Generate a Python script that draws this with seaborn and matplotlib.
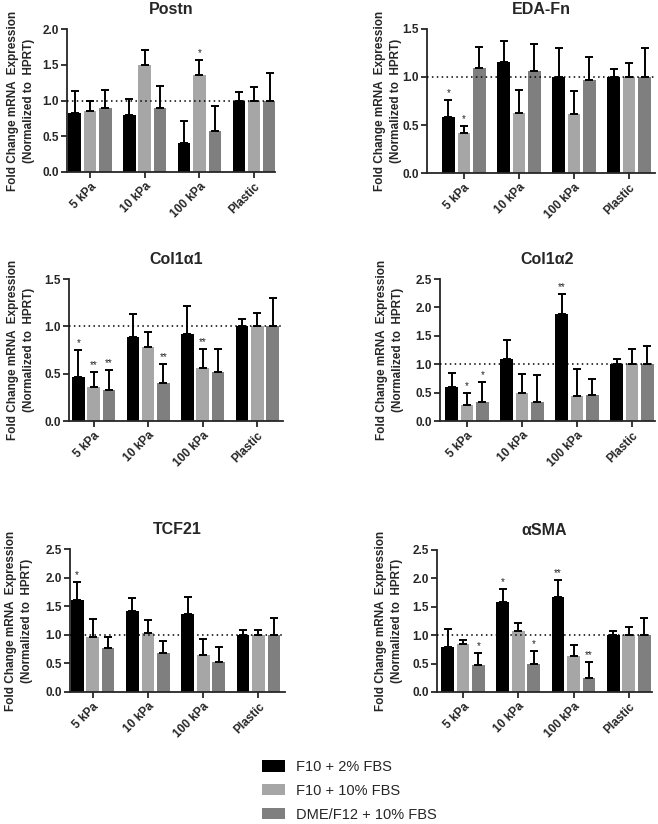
import numpy as np
import pandas as pd
import seaborn as sns
from matplotlib import pyplot as plt
from matplotlib.patches import Patch

substrates = ["5 kPa", "10 kPa", "100 kPa", "Plastic"]
media = ["F10 + 2% FBS", "F10 + 10% FBS", "DME/F12 + 10% FBS"]
colors = ["#000000", "#a6a6a6", "#7f7f7f"]

# rows = media (same order as `media`), columns = substrates
postn_mean = [[0.82, 0.80, 0.41, 1.00], [0.85, 1.49, 1.35, 1.00], [0.90, 0.89, 0.58, 1.00]]
postn_err = [[0.31, 0.22, 0.31, 0.12], [0.15, 0.22, 0.21, 0.19], [0.25, 0.31, 0.34, 0.38]]
postn_stars = [["", "", "", ""], ["", "", "*", ""], ["", "", "", ""]]

eda_mean = [[0.58, 1.16, 1.00, 1.00], [0.42, 0.63, 0.61, 1.00], [1.09, 1.06, 0.97, 1.00]]
eda_err = [[0.18, 0.22, 0.30, 0.08], [0.07, 0.23, 0.24, 0.15], [0.22, 0.28, 0.24, 0.30]]
eda_stars = [["*", "", "", ""], ["*", "", "", ""], ["", "", "", ""]]

col1a1_mean = [[0.47, 0.89, 0.92, 1.00], [0.36, 0.78, 0.555, 1.00], [0.33, 0.40, 0.52, 1.00]]
col1a1_err = [[0.28, 0.24, 0.30, 0.08], [0.16, 0.16, 0.205, 0.14], [0.21, 0.20, 0.24, 0.30]]
col1a1_stars = [["*", "", "", ""], ["**", "", "**", ""], ["**", "**", "", ""]]

col1a2_mean = [[0.60, 1.09, 1.89, 1.00], [0.29, 0.50, 0.445, 1.00], [0.33, 0.33, 0.46, 1.00]]
col1a2_err = [[0.24, 0.33, 0.35, 0.09], [0.20, 0.32, 0.465, 0.26], [0.35, 0.48, 0.28, 0.32]]
col1a2_stars = [["", "", "**", ""], ["*", "", "", ""], ["*", "", "", ""]]

tcf21_mean = [[1.61, 1.42, 1.37, 1.00], [0.97, 1.03, 0.64, 1.00], [0.77, 0.69, 0.52, 1.00]]
tcf21_err = [[0.31, 0.23, 0.29, 0.09], [0.31, 0.23, 0.28, 0.09], [0.20, 0.20, 0.26, 0.29]]
tcf21_stars = [["*", "", "", ""], ["", "", "", ""], ["", "", "", ""]]

asma_mean = [[0.80, 1.59, 1.67, 1.00], [0.84, 1.07, 0.64, 1.00], [0.475, 0.50, 0.25, 1.00]]
asma_err = [[0.31, 0.22, 0.30, 0.08], [0.07, 0.15, 0.18, 0.15], [0.205, 0.22, 0.27, 0.30]]
asma_stars = [["", "*", "**", ""], ["", "", "", ""], ["*", "*", "**", ""]]

sns.set_style("ticks")
plt.rcParams['font.family'] = ['Liberation Sans', 'DejaVu Sans']

W, H = 658, 824
fig = plt.figure(figsize=(W / 100, H / 100), dpi=100)

# title, data, ymax, axes box in pixels (left, right, top, bottom), xlim, label x
panels = [
    ("Postn", postn_mean, postn_err, postn_stars, 2.0, (67, 275, 29, 172), (-0.42, 3.38), 35),
    ("EDA-Fn", eda_mean, eda_err, eda_stars, 1.5, (427, 655, 29, 173), (-0.67, 3.47), 402),
    ("Col1α1", col1a1_mean, col1a1_err, col1a1_stars, 1.5, (69, 283, 279, 421), (-0.45, 3.47), 35),
    ("Col1α2", col1a2_mean, col1a2_err, col1a2_stars, 2.5, (440, 655, 279, 421), (-0.49, 3.42), 404),
    ("TCF21", tcf21_mean, tcf21_err, tcf21_stars, 2.5, (70, 285, 549, 692), (-0.41, 3.48), 33),
    ("αSMA", asma_mean, asma_err, asma_stars, 2.5, (437, 652, 550, 692), (-0.47, 3.42), 403),
]

for title, mean, err, stars, ymax, box, xlim, labx in panels:
    l, r, t, b = box
    ax = fig.add_axes([l / W, 1 - b / H, (r - l) / W, (b - t) / H])
    df = pd.DataFrame({
        "substrate": np.tile(substrates, len(media)),
        "medium": np.repeat(media, len(substrates)),
        "value": np.ravel(mean),
    })
    sns.barplot(data=df, x="substrate", y="value", hue="medium", order=substrates,
                hue_order=media, palette=colors, saturation=1, width=0.84, gap=0.18,
                errorbar=None, legend=False, linewidth=0, ax=ax)
    bars = list(ax.containers)
    for i, cont in enumerate(bars):
        xs = [p.get_x() + p.get_width() / 2 for p in cont]
        ax.errorbar(xs, mean[i], yerr=[np.zeros(4), err[i]], fmt="none", ecolor="black",
                    elinewidth=1.4, capsize=2.6, capthick=1.4, zorder=1)
        for j in range(4):
            if stars[i][j]:
                ax.annotate(stars[i][j], (xs[j], mean[i][j] + err[i][j]), xytext=(0, 1.5),
                            textcoords="offset points", ha="center", va="bottom",
                            fontsize=7, color="#222222")
    ax.axhline(1.0, ls=(0, (1, 2.2)), color="black", lw=1.1, zorder=3)
    ax.set_xlim(*xlim)
    ax.set_ylim(0, ymax)
    ax.set_yticks(np.arange(0, ymax + 0.01, 0.5))
    ax.set_yticklabels([f"{v:.1f}" for v in np.arange(0, ymax + 0.01, 0.5)])
    ax.set_xlabel("")
    ax.set_xticks(range(4))
    ax.set_xticklabels(substrates, rotation=45, ha="right", rotation_mode="anchor")
    ax.tick_params(axis="both", labelsize=8.5, length=4, width=1.3, pad=2)
    for lab in ax.get_xticklabels() + ax.get_yticklabels():
        lab.set_fontweight("bold")
    sns.despine(ax=ax)
    for s in ["left", "bottom"]:
        ax.spines[s].set_linewidth(1.3)
    ax.set_title(title, fontsize=11.5, fontweight="bold", pad=11)
    ax.set_ylabel("Fold Change mRNA  Expression\n(Normalized to  HPRT)",
                  fontsize=8.5, fontweight="bold", linespacing=1.45)
    ax.yaxis.set_label_coords((labx - l) / (r - l), 0.5)

handles = [Patch(facecolor=c, edgecolor="none") for c in colors]
fig.legend(handles, media, loc="upper left", bbox_to_anchor=(262 / W, 1 - 760 / H),
           frameon=False, fontsize=10.5, handlelength=1.6, handleheight=0.8,
           handletextpad=0.7, labelspacing=0.68, borderpad=0, borderaxespad=0)

plt.savefig("out.png", dpi=100)
